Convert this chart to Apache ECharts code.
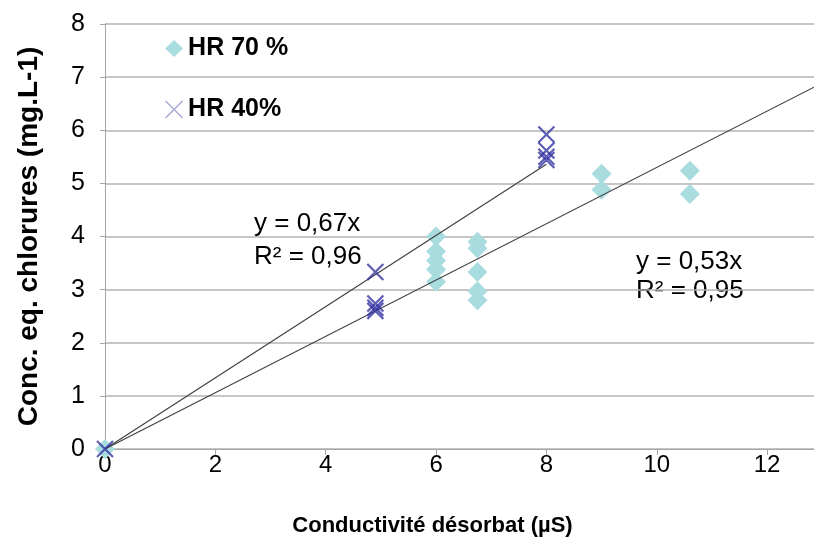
<!DOCTYPE html>
<html>
<head>
<meta charset="utf-8">
<script src="https://cdn.jsdelivr.net/npm/echarts@6/dist/echarts.min.js"></script>
<style>
  html, body { margin: 0; padding: 0; background: #fff; }
  #chart { width: 814px; height: 542px; }
</style>
</head>
<body>
<div id="chart"></div>
<script>
// valeurs
const hr70X = [0, 6, 6, 6, 6, 6, 6.75, 6.75, 6.75, 6.75, 6.75, 9, 9, 10.6, 10.6];
const hr70Y = [0, 4.0, 3.72, 3.55, 3.38, 3.15, 3.9, 3.78, 3.33, 2.97, 2.8, 5.18, 4.88, 5.24, 4.8];

const hr40X = [0, 4.9, 4.9, 4.9, 4.9, 8, 8, 8, 8];
const hr40Y = [0, 3.33, 2.74, 2.66, 2.6, 5.92, 5.62, 5.5, 5.44];

// droites de tendance : pente et abscisse de fin
const trendSlopes = [0.67, 0.53];
const trendEnds = [8, 12.85];
const trendLabels = [
    ['y = 0,67x', 'R² = 0,96'],
    ['y = 0,53x', 'R² = 0,95']
];

const seriesNames = ['HR 70 %', 'HR 40%'];
const xTicks = [0, 2, 4, 6, 8, 10, 12];

const CROSS = 'path://M0,0L10,10M10,0L0,10';
const FONT = 'Liberation Sans, Arial';

const chart = echarts.init(document.getElementById('chart'));

const zip = (xs, ys) => xs.map((x, i) => [x, ys[i]]);
const trendData = (k) => [[0, 0], [trendEnds[k], +(trendSlopes[k] * trendEnds[k]).toFixed(3)]];

const option = {
    animation: false,
    grid: { left: 105, right: 0, top: 24, bottom: 93 },
    legend: {
        orient: 'vertical',
        left: 160,
        top: 31,
        itemWidth: 18,
        itemHeight: 17,
        itemGap: 36,
        textStyle: { fontFamily: FONT, fontWeight: 'bold', fontSize: 25, color: '#000' },
        data: [
            { name: seriesNames[0], icon: 'diamond', itemStyle: { color: '#a9dcdf' } },
            { name: seriesNames[1], icon: CROSS, itemStyle: { color: 'transparent', borderColor: '#8c8cd0', borderWidth: 1.2 } }
        ]
    },
    xAxis: {
        type: 'value',
        min: 0,
        max: 12.85,
        interval: 2,
        name: 'Conductivité désorbat (µS)',
        nameLocation: 'middle',
        nameGap: 66,
        nameTextStyle: { fontFamily: FONT, fontWeight: 'bold', fontSize: 22, color: '#000', padding: [0, 54, 0, 0] },
        axisLine: { show: true, lineStyle: { color: '#a6a6a6', width: 1 } },
        axisTick: { show: true, length: 6, lineStyle: { color: '#a6a6a6' } },
        axisLabel: {
            showMaxLabel: false,
            margin: 4,
            fontFamily: FONT,
            fontSize: 24,
            color: '#000',
            formatter: (v) => xTicks.includes(v) ? String(v) : ''
        },
        splitLine: { show: false }
    },
    yAxis: {
        type: 'value',
        min: 0,
        max: 8,
        interval: 1,
        name: 'Conc. eq. chlorures (mg.L-1)',
        nameLocation: 'middle',
        nameGap: 62,
        nameTextStyle: { fontFamily: FONT, fontWeight: 'bold', fontSize: 28, color: '#000' },
        axisLine: { show: true, lineStyle: { color: '#a6a6a6', width: 1 } },
        axisTick: { show: true, length: 5, lineStyle: { color: '#a6a6a6' } },
        axisLabel: { margin: 20, fontFamily: FONT, fontSize: 25, color: '#000' },
        splitLine: { show: true, lineStyle: { color: '#b3b3b3', width: 1.5 } }
    },
    series: [
        {
            name: seriesNames[0],
            type: 'scatter',
            symbol: 'diamond',
            symbolSize: 20,
            itemStyle: { color: '#a9dcdf', opacity: 1 },
            data: zip(hr70X, hr70Y),
            z: 2
        },
        {
            name: seriesNames[1],
            type: 'scatter',
            symbol: CROSS,
            symbolSize: 16,
            itemStyle: { color: 'transparent', borderColor: '#3434a2', borderWidth: 2.2 },
            data: zip(hr40X, hr40Y),
            z: 4
        },
        {
            type: 'line',
            data: trendData(0),
            symbol: 'none',
            silent: true,
            lineStyle: { color: '#404040', width: 1.2 },
            z: 3
        },
        {
            type: 'line',
            data: trendData(1),
            symbol: 'none',
            silent: true,
            lineStyle: { color: '#404040', width: 1.2 },
            z: 3
        }
    ],
    graphic: [
        { type: 'text', left: 254, top: 211, style: { text: trendLabels[0][0], fontFamily: FONT, fontSize: 26, fill: '#000' } },
        { type: 'text', left: 254, top: 244, style: { text: trendLabels[0][1], fontFamily: FONT, fontSize: 26, fill: '#000' } },
        { type: 'text', left: 636, top: 249, style: { text: trendLabels[1][0], fontFamily: FONT, fontSize: 26, fill: '#000' } },
        { type: 'text', left: 636, top: 278, style: { text: trendLabels[1][1], fontFamily: FONT, fontSize: 26, fill: '#000' } }
    ]
};

chart.setOption(option);
</script>
</body>
</html>
